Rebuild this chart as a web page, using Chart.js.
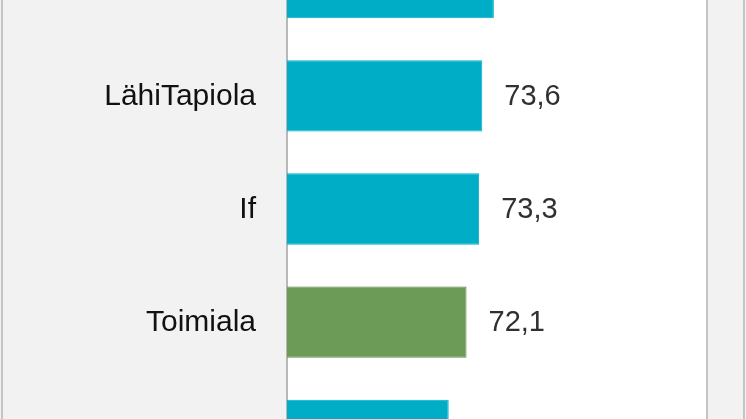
<!DOCTYPE html>
<html>
<head>
<meta charset="utf-8">
<script src="https://cdn.jsdelivr.net/npm/chart.js@4/dist/chart.umd.min.js"></script>
<style>
  html, body { margin: 0; padding: 0; background: #f2f2f2; overflow: hidden; }
  body { width: 746px; height: 419px; position: relative; }
  #frame {
    position: absolute; left: 1px; top: 0; width: 740px; height: 419px;
    border-left: 2px solid #c4c4c4; border-right: 2px solid #c4c4c4;
  }
  #chart { position: absolute; left: 0; top: -74px; }
</style>
</head>
<body>
<div id="frame"></div>
<canvas id="chart" width="746" height="566"></canvas>
<script>
// companies, top to bottom (first and last are cut off in the picture)
const companies = ['Fennia', 'LähiTapiola', 'If', 'Toimiala', 'Pohjola'];
const scores = [74.7, 73.6, 73.3, 72.1, 70.4];
const barColors = ['#00adc6', '#00adc6', '#00adc6', '#6b9b56', '#00adc6'];
const edgeColors = ['#00adc6', '#00adc6', '#00adc6', '#5b8a47', '#00adc6'];

Chart.defaults.font.family = '"Liberation Sans", Arial, sans-serif';

// white plot area with a line on its right edge
const plotBackground = {
    id: 'plotBackground',
    beforeDraw(chart) {
        const { ctx, chartArea } = chart;
        ctx.save();
        ctx.fillStyle = '#ffffff';
        ctx.fillRect(chartArea.left, chartArea.top, chartArea.right - chartArea.left, chartArea.bottom - chartArea.top);
        ctx.strokeStyle = '#c4c4c4';
        ctx.lineWidth = 2;
        ctx.beginPath();
        ctx.moveTo(chartArea.right, chartArea.top);
        ctx.lineTo(chartArea.right, chartArea.bottom);
        ctx.stroke();
        ctx.restore();
    }
};

// value labels after the bar ends, finnish decimal comma
const valueLabels = {
    id: 'valueLabels',
    afterDatasetsDraw(chart) {
        const { ctx } = chart;
        const meta = chart.getDatasetMeta(0);
        ctx.save();
        ctx.font = '29px "Liberation Sans", Arial, sans-serif';
        ctx.fillStyle = '#303030';
        ctx.textAlign = 'left';
        ctx.textBaseline = 'middle';
        meta.data.forEach((bar, i) => {
            const txt = scores[i].toFixed(1).replace('.', ',');
            ctx.fillText(txt, bar.x + 22, bar.y + 1);
        });
        ctx.restore();
    }
};

const ctx = document.getElementById('chart').getContext('2d');
new Chart(ctx, {
    type: 'bar',
    data: {
        labels: companies,
        datasets: [{
            data: scores,
            backgroundColor: barColors,
            borderColor: edgeColors,
            borderWidth: 1,
            categoryPercentage: 1,
            barPercentage: 0.63
        }]
    },
    options: {
        indexAxis: 'y',
        responsive: false,
        maintainAspectRatio: false,
        animation: false,
        layout: { padding: { left: 0, right: 39, top: 0, bottom: 0 } },
        scales: {
            x: {
                display: false,
                min: 55,
                max: 95
            },
            y: {
                afterFit: function (scale) {
                    scale.width = 287;
                    scale.paddingTop = 0;
                    scale.paddingBottom = 0;
                },
                grid: { display: false, drawTicks: false },
                border: { display: true, color: '#b8b8b8', width: 2 },
                ticks: {
                    padding: 31,
                    labelOffset: 1,
                    color: '#111111',
                    font: { size: 30 }
                }
            }
        },
        plugins: {
            legend: { display: false },
            tooltip: { enabled: false }
        }
    },
    plugins: [plotBackground, valueLabels]
});
</script>
</body>
</html>
